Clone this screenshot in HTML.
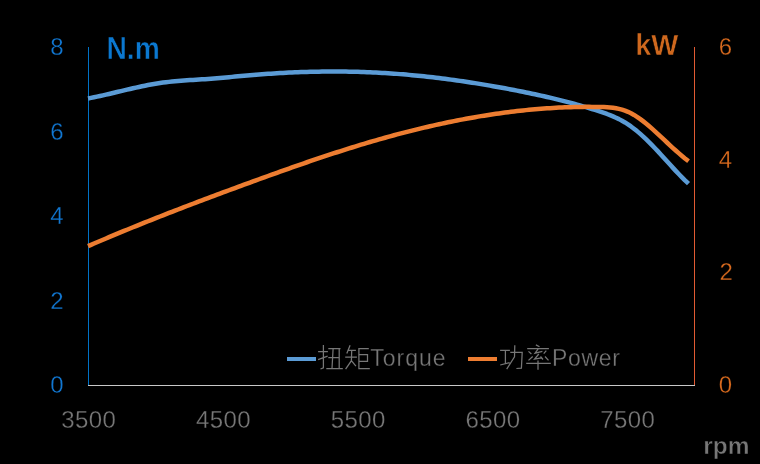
<!DOCTYPE html>
<html><head><meta charset="utf-8"><style>
html,body{margin:0;padding:0;background:#000;}
body{width:760px;height:464px;overflow:hidden;}
svg{display:block;will-change:transform;}
text{font-family:"Liberation Sans",sans-serif;}
.thin text, text.thin{stroke:#000;stroke-width:0.3px;}
.thin2 text{stroke:#000;stroke-width:0.3px;}
.bthin{stroke:#000;stroke-width:0.5px;}
</style></head><body>
<svg width="760" height="464" viewBox="0 0 760 464">
<rect width="760" height="464" fill="#000"/>
<line x1="88.5" y1="47" x2="88.5" y2="385" stroke="#0072C6" stroke-width="1"/>
<line x1="694.5" y1="47" x2="694.5" y2="385" stroke="#E15A32" stroke-width="1"/>
<line x1="88" y1="385.5" x2="695" y2="385.5" stroke="#C8C8C8" stroke-width="1"/>
<g fill="#1177D2" font-size="24" text-anchor="middle" class="thin2">
<text x="57" y="55">8</text>
<text x="57" y="139.5">6</text>
<text x="57" y="224">4</text>
<text x="57" y="309.2">2</text>
<text x="57" y="392.8">0</text>
</g>
<g fill="#D86A1E" font-size="24" text-anchor="middle" class="thin2">
<text x="725.5" y="55">6</text>
<text x="725.5" y="168">4</text>
<text x="726.3" y="280.3">2</text>
<text x="725.5" y="392.8">0</text>
</g>
<g fill="#777777" font-size="24" text-anchor="middle" letter-spacing="0.4" class="thin">
<text x="88.7" y="427.8">3500</text>
<text x="223.5" y="427.8">4500</text>
<text x="358.2" y="427.8">5500</text>
<text x="493" y="427.8">6500</text>
<text x="627.8" y="427.8">7500</text>
</g>
<text transform="translate(106.5,59) scale(0.94,1.025)" fill="#0B78D0" font-size="30" font-weight="bold" class="bthin">N.m</text>
<text transform="translate(635.3,55) scale(0.97,1.02)" fill="#CE681E" font-size="29.6" font-weight="bold" class="bthin">kW</text>
<text transform="translate(703.2,454.2) scale(0.98,0.93)" fill="#777777" font-size="25" font-weight="bold" class="bthin">rpm</text>
<path d="M88.0,98.46 L91.0,97.88 L94.0,97.28 L97.0,96.65 L100.0,96.00 L103.0,95.33 L106.0,94.65 L109.0,93.95 L112.0,93.24 L115.0,92.53 L118.0,91.81 L121.0,91.10 L124.0,90.38 L127.0,89.67 L130.0,88.97 L133.0,88.28 L136.0,87.60 L139.0,86.94 L142.0,86.29 L145.0,85.68 L148.0,85.08 L151.0,84.52 L154.0,83.98 L157.0,83.49 L160.0,83.03 L163.0,82.60 L166.0,82.22 L169.0,81.87 L172.0,81.55 L175.0,81.25 L178.0,80.99 L181.0,80.74 L184.0,80.51 L187.0,80.30 L190.0,80.09 L193.0,79.90 L196.0,79.71 L199.0,79.52 L202.0,79.34 L205.0,79.14 L208.0,78.94 L211.0,78.73 L214.0,78.51 L217.0,78.26 L220.0,78.01 L223.0,77.73 L226.0,77.45 L229.0,77.17 L232.0,76.87 L235.0,76.58 L238.0,76.29 L241.0,76.01 L244.0,75.74 L247.0,75.47 L250.0,75.21 L253.0,74.96 L256.0,74.72 L259.0,74.48 L262.0,74.25 L265.0,74.04 L268.0,73.83 L271.0,73.63 L274.0,73.44 L277.0,73.25 L280.0,73.08 L283.0,72.91 L286.0,72.76 L289.0,72.61 L292.0,72.47 L295.0,72.34 L298.0,72.22 L301.0,72.11 L304.0,72.01 L307.0,71.92 L310.0,71.84 L313.0,71.76 L316.0,71.70 L319.0,71.65 L322.0,71.60 L325.0,71.57 L328.0,71.55 L331.0,71.53 L334.0,71.53 L337.0,71.53 L340.0,71.55 L343.0,71.58 L346.0,71.61 L349.0,71.66 L352.0,71.72 L355.0,71.79 L358.0,71.87 L361.0,71.96 L364.0,72.06 L367.0,72.17 L370.0,72.29 L373.0,72.42 L376.0,72.57 L379.0,72.72 L382.0,72.89 L385.0,73.07 L388.0,73.25 L391.0,73.45 L394.0,73.66 L397.0,73.88 L400.0,74.12 L403.0,74.36 L406.0,74.61 L409.0,74.88 L412.0,75.15 L415.0,75.43 L418.0,75.73 L421.0,76.03 L424.0,76.35 L427.0,76.67 L430.0,77.00 L433.0,77.35 L436.0,77.70 L439.0,78.07 L442.0,78.44 L445.0,78.82 L448.0,79.21 L451.0,79.61 L454.0,80.03 L457.0,80.44 L460.0,80.87 L463.0,81.31 L466.0,81.76 L469.0,82.21 L472.0,82.68 L475.0,83.15 L478.0,83.63 L481.0,84.12 L484.0,84.62 L487.0,85.12 L490.0,85.64 L493.0,86.16 L496.0,86.69 L499.0,87.23 L502.0,87.78 L505.0,88.33 L508.0,88.90 L511.0,89.47 L514.0,90.04 L517.0,90.63 L520.0,91.22 L523.0,91.82 L526.0,92.43 L529.0,93.05 L532.0,93.68 L535.0,94.32 L538.0,94.97 L541.0,95.63 L544.0,96.30 L547.0,96.98 L550.0,97.68 L553.0,98.39 L556.0,99.11 L559.0,99.85 L562.0,100.60 L565.0,101.37 L568.0,102.15 L571.0,102.95 L574.0,103.76 L577.0,104.59 L580.0,105.44 L583.0,106.30 L586.0,107.18 L589.0,108.09 L592.0,109.01 L595.0,109.95 L598.0,110.91 L601.0,111.89 L604.0,112.91 L607.0,113.98 L610.0,115.13 L613.0,116.36 L616.0,117.69 L619.0,119.13 L622.0,120.72 L625.0,122.45 L628.0,124.35 L631.0,126.43 L634.0,128.68 L637.0,131.09 L640.0,133.65 L643.0,136.34 L646.0,139.16 L649.0,142.08 L652.0,145.11 L655.0,148.22 L658.0,151.41 L661.0,154.66 L664.0,157.95 L667.0,161.27 L670.0,164.58 L673.0,167.86 L676.0,171.10 L679.0,174.28 L682.0,177.36 L685.0,180.33 L688.0,183.17 L688.5,183.63" fill="none" stroke="#5B9BD5" stroke-width="4.5" stroke-linejoin="round"/>
<path d="M88.0,246.14 L91.0,244.84 L94.0,243.55 L97.0,242.27 L100.0,240.99 L103.0,239.71 L106.0,238.45 L109.0,237.18 L112.0,235.93 L115.0,234.67 L118.0,233.43 L121.0,232.19 L124.0,230.95 L127.0,229.72 L130.0,228.49 L133.0,227.27 L136.0,226.06 L139.0,224.84 L142.0,223.64 L145.0,222.43 L148.0,221.24 L151.0,220.04 L154.0,218.85 L157.0,217.67 L160.0,216.49 L163.0,215.31 L166.0,214.13 L169.0,212.97 L172.0,211.80 L175.0,210.64 L178.0,209.48 L181.0,208.32 L184.0,207.17 L187.0,206.02 L190.0,204.88 L193.0,203.74 L196.0,202.60 L199.0,201.46 L202.0,200.33 L205.0,199.20 L208.0,198.07 L211.0,196.95 L214.0,195.83 L217.0,194.71 L220.0,193.59 L223.0,192.48 L226.0,191.36 L229.0,190.25 L232.0,189.14 L235.0,188.04 L238.0,186.93 L241.0,185.83 L244.0,184.73 L247.0,183.63 L250.0,182.54 L253.0,181.44 L256.0,180.35 L259.0,179.26 L262.0,178.17 L265.0,177.08 L268.0,176.00 L271.0,174.92 L274.0,173.84 L277.0,172.77 L280.0,171.70 L283.0,170.63 L286.0,169.57 L289.0,168.51 L292.0,167.45 L295.0,166.40 L298.0,165.36 L301.0,164.32 L304.0,163.28 L307.0,162.25 L310.0,161.22 L313.0,160.20 L316.0,159.18 L319.0,158.17 L322.0,157.17 L325.0,156.17 L328.0,155.18 L331.0,154.19 L334.0,153.21 L337.0,152.24 L340.0,151.28 L343.0,150.32 L346.0,149.37 L349.0,148.42 L352.0,147.49 L355.0,146.56 L358.0,145.64 L361.0,144.72 L364.0,143.82 L367.0,142.92 L370.0,142.03 L373.0,141.16 L376.0,140.29 L379.0,139.42 L382.0,138.57 L385.0,137.73 L388.0,136.90 L391.0,136.07 L394.0,135.26 L397.0,134.45 L400.0,133.66 L403.0,132.87 L406.0,132.10 L409.0,131.33 L412.0,130.57 L415.0,129.83 L418.0,129.09 L421.0,128.37 L424.0,127.65 L427.0,126.95 L430.0,126.25 L433.0,125.57 L436.0,124.90 L439.0,124.24 L442.0,123.59 L445.0,122.95 L448.0,122.32 L451.0,121.70 L454.0,121.09 L457.0,120.50 L460.0,119.91 L463.0,119.34 L466.0,118.78 L469.0,118.23 L472.0,117.69 L475.0,117.17 L478.0,116.65 L481.0,116.15 L484.0,115.66 L487.0,115.19 L490.0,114.72 L493.0,114.27 L496.0,113.83 L499.0,113.40 L502.0,112.98 L505.0,112.58 L508.0,112.19 L511.0,111.82 L514.0,111.45 L517.0,111.10 L520.0,110.76 L523.0,110.44 L526.0,110.13 L529.0,109.83 L532.0,109.55 L535.0,109.28 L538.0,109.02 L541.0,108.78 L544.0,108.55 L547.0,108.33 L550.0,108.13 L553.0,107.95 L556.0,107.77 L559.0,107.61 L562.0,107.47 L565.0,107.34 L568.0,107.23 L571.0,107.13 L574.0,107.05 L577.0,106.98 L580.0,106.93 L583.0,106.89 L586.0,106.87 L589.0,106.87 L592.0,106.88 L595.0,106.91 L598.0,106.96 L601.0,107.03 L604.0,107.12 L607.0,107.26 L610.0,107.48 L613.0,107.80 L616.0,108.25 L619.0,108.85 L622.0,109.62 L625.0,110.60 L628.0,111.80 L631.0,113.25 L634.0,114.93 L637.0,116.82 L640.0,118.89 L643.0,121.13 L646.0,123.52 L649.0,126.03 L652.0,128.64 L655.0,131.33 L658.0,134.08 L661.0,136.87 L664.0,139.68 L667.0,142.49 L670.0,145.29 L673.0,148.06 L676.0,150.78 L679.0,153.44 L682.0,156.01 L685.0,158.48 L688.0,160.84 L688.5,161.22" fill="none" stroke="#ED7D31" stroke-width="4.5" stroke-linejoin="round"/>
<line x1="287" y1="359" x2="316" y2="359" stroke="#5B9BD5" stroke-width="4"/>
<line x1="468" y1="359" x2="497" y2="359" stroke="#ED7D31" stroke-width="4"/>
<g fill="#777777" font-size="23" class="thin">
<text x="370.3" y="365.5" letter-spacing="1.0">Torque</text>
<text x="552" y="365.8" letter-spacing="0.7">Power</text>
</g>
<g fill="none" stroke="#777777" stroke-width="1.25" stroke-linecap="butt" stroke-linejoin="miter">
<path d="M318.1,351.6 L327.9,351.6 M323.4,345.1 L323.4,367.9 L320.5,369.0 M318.1,359.6 L327.6,356.2 M328.3,348.5 L340.5,348.5 M339.2,348.5 L339.2,368.5 M333.1,348.8 L332.0,368.5 M328.3,357.5 L339.2,357.5 M326.3,368.5 L342.8,368.5"/>
<path d="M350.1,345.2 L346.8,353.6 M348.5,350.4 L355.9,350.4 M345.2,357.2 L356.9,357.2 M351.7,350.4 L351.4,360.7 L345.6,369.1 M351.4,360.7 L355.9,366.2 M368.8,348.5 L358.9,348.5 L358.9,368.5 L369.8,368.5 M358.9,354.6 L367.5,354.6 L367.5,361.4 L358.9,361.4"/>
<path d="M500.1,350.4 L509.9,350.4 M505.4,350.4 L505.4,363.7 M500.2,365.0 L509.6,362.7 M510.3,352.3 L522.2,352.3 L521.4,368.2 L516.4,368.5 M514.8,345.2 L514.5,356.9 L506.7,369.1"/>
<path d="M535.9,344.9 L539.5,346.8 M527.2,348.5 L548.9,348.5 M538.2,348.8 L535.0,353.2 L542.4,351.4 M538.8,354.0 L534.6,359.1 L541.4,357.8 M540.5,356.5 L543.0,359.5 M528.5,351.4 L531.4,354.0 M532.7,356.5 L528.5,360.4 M546.3,350.7 L543.7,353.6 M545.0,356.5 L548.5,360.4 M526.2,363.3 L550.8,363.3 M538.0,360.4 L538.0,369.8"/>
</g>
</svg>
</body></html>
